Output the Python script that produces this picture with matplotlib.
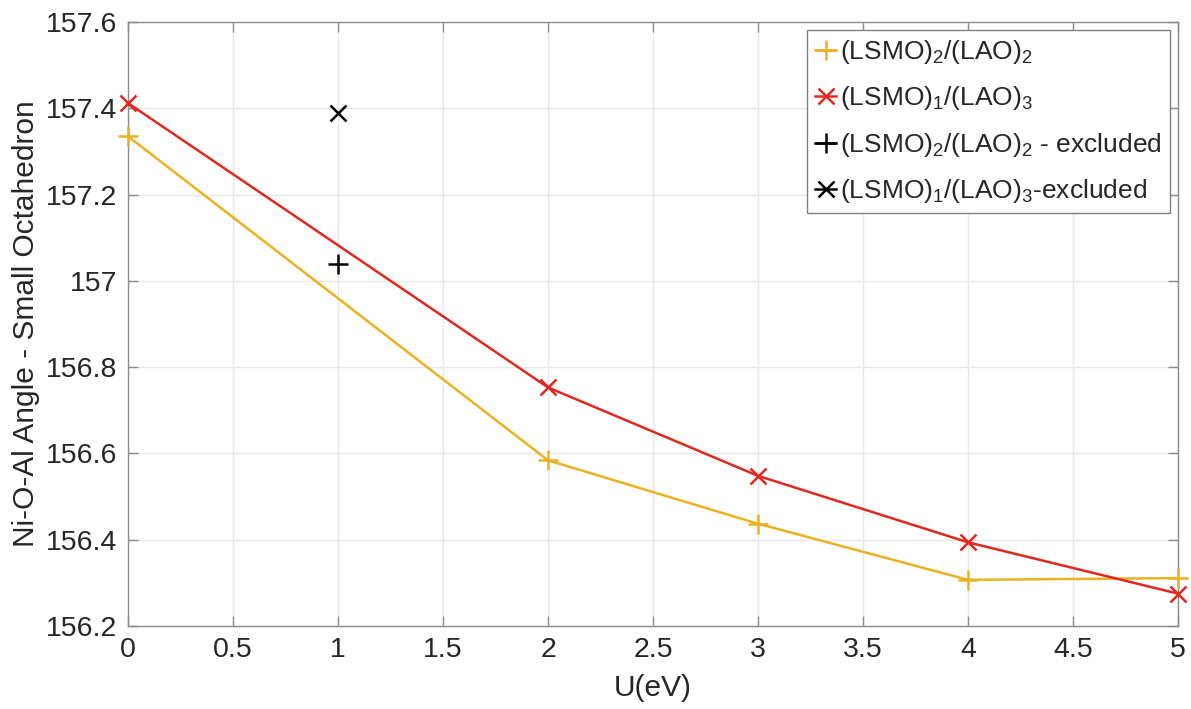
import matplotlib
matplotlib.use("Agg")
import matplotlib.pyplot as plt
from matplotlib.ticker import FuncFormatter

plt.rcParams["font.family"] = ["Liberation Sans", "DejaVu Sans"]
plt.rcParams["mathtext.fontset"] = "custom"
plt.rcParams["mathtext.rm"] = "Liberation Sans"
plt.rcParams["mathtext.it"] = "Liberation Sans"

# data
u_main = [0, 2, 3, 4, 5]
angle_22 = [157.335, 156.584, 156.437, 156.307, 156.311]
angle_13 = [157.412, 156.753, 156.548, 156.394, 156.275]

u_excl = [1]
angle_22_excl = [157.040]
angle_13_excl = [157.389]

x_ticks = [0, 0.5, 1, 1.5, 2, 2.5, 3, 3.5, 4, 4.5, 5]
y_ticks = [156.2, 156.4, 156.6, 156.8, 157.0, 157.2, 157.4, 157.6]

yellow = "#EDB120"
red = "#E2281E"
dark = "#262626"

fig = plt.figure(figsize=(11.91, 7.09), dpi=100)
ax = fig.add_axes([128 / 1191, 1 - 626 / 709, 1050 / 1191, 604 / 709])

ax.plot(u_main, angle_22, "-+", color=yellow, lw=1.8, ms=15, mew=1.8,
        label=r"(LSMO)$_2$/(LAO)$_2$", clip_on=False, zorder=3)
ax.plot(u_main, angle_13, "-x", color=red, lw=1.8, ms=12, mew=1.8,
        label=r"(LSMO)$_1$/(LAO)$_3$", clip_on=False, zorder=3)
ax.plot(u_excl, angle_22_excl, "-+", color="black", lw=1.8, ms=15, mew=1.8,
        label=r"(LSMO)$_2$/(LAO)$_2$ - excluded")
ax.plot(u_excl, angle_13_excl, "-x", color="black", lw=1.8, ms=11, mew=1.8,
        label=r"(LSMO)$_1$/(LAO)$_3$-excluded")

ax.set_xlim(0, 5)
ax.set_ylim(156.2, 157.6)
ax.set_xticks(x_ticks)
ax.set_yticks(y_ticks)
fmt = FuncFormatter(lambda v, p: "{:g}".format(round(v, 3)))
ax.xaxis.set_major_formatter(fmt)
ax.yaxis.set_major_formatter(fmt)

ax.grid(True, color="#e8e8e8", lw=1.0)
ax.set_axisbelow(True)
for s in ax.spines.values():
    s.set_color("0.55")
    s.set_linewidth(1.0)
ax.tick_params(direction="in", length=7.5, width=1.0, color="0.55",
               top=True, right=True, labelsize=20.5, labelcolor=dark, pad=8)

ax.set_xlabel("U(eV)", fontsize=21.5, color=dark, labelpad=8)
ax.set_ylabel("Ni-O-Al Angle - Small Octahedron", fontsize=21.5, color=dark, labelpad=4)

leg = ax.legend(loc="upper right", fontsize=19, handlelength=0.8, handletextpad=0.15,
                borderaxespad=0.3, borderpad=0.3, labelspacing=0.7,
                fancybox=False, framealpha=1, edgecolor="0.5")
leg.get_frame().set_linewidth(1.0)
leg.set_zorder(5)
for t in leg.get_texts():
    t.set_color(dark)

fig.savefig("out.png", dpi=100)
